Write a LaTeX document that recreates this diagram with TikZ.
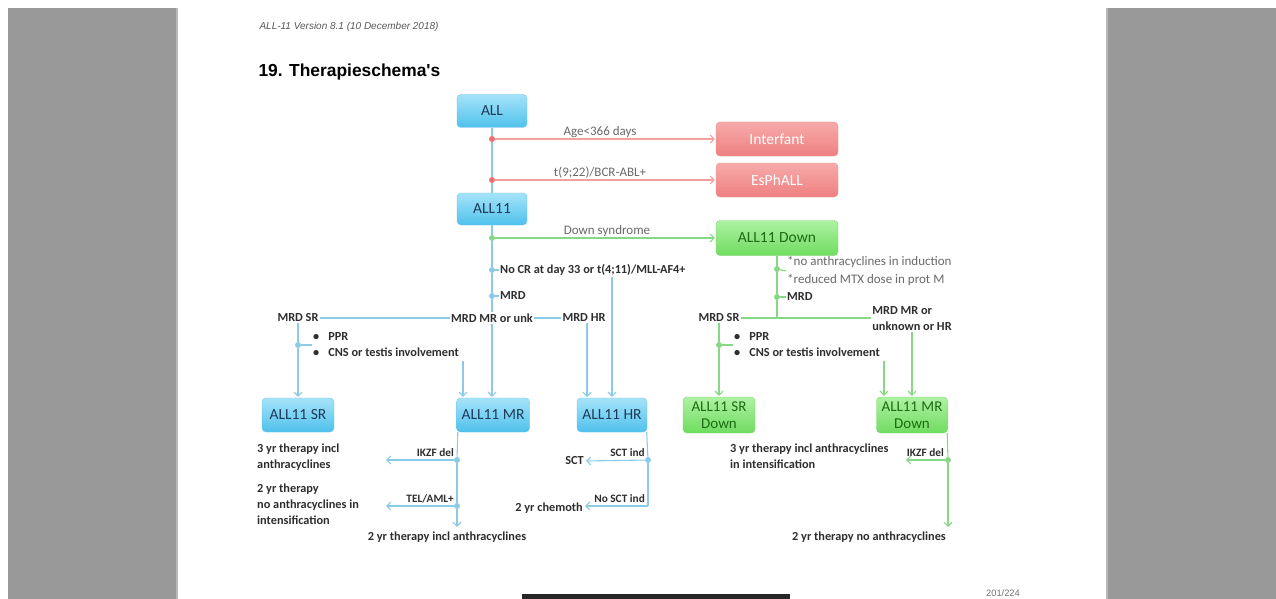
\documentclass[tikz,border=0pt]{standalone}
\usepackage{fontspec}
\setmainfont{Carlito}
\newfontfamily\arialf{Liberation Sans}
\usetikzlibrary{arrows.meta}
\definecolor{pagegray}{HTML}{999999}
\definecolor{bTop}{HTML}{A6E3F9}
\definecolor{bBot}{HTML}{4FC1EC}
\definecolor{bEdge}{HTML}{6CC6EA}
\definecolor{bText}{HTML}{1E3C5A}
\definecolor{bLine}{HTML}{8CCBE8}
\definecolor{rTop}{HTML}{F7AAAA}
\definecolor{rBot}{HTML}{EF8080}
\definecolor{rEdge}{HTML}{EE9090}
\definecolor{rLine}{HTML}{F3A0A0}
\definecolor{rDot}{HTML}{EE7070}
\definecolor{gTop}{HTML}{ADF2A2}
\definecolor{gBot}{HTML}{70DC60}
\definecolor{gEdge}{HTML}{7DD66E}
\definecolor{gText}{HTML}{1F6A14}
\definecolor{gLine}{HTML}{86D886}
\definecolor{txt}{HTML}{2E2E2E}
\definecolor{ltxt}{HTML}{6A6A6A}
\begin{document}
\begin{tikzpicture}[x=1pt,y=-1pt,
  box/.style={rounded corners=4pt, align=center, inner sep=2pt,
    font=\fontsize{15.5}{17}\selectfont},
  bbox/.style={box, top color=bTop, bottom color=bBot, draw=bEdge, text=bText},
  rbox/.style={box, top color=rTop, bottom color=rBot, draw=rEdge, text=white},
  gbox/.style={box, top color=gTop, bottom color=gBot, draw=gEdge, text=gText},
  lab/.style={font=\bfseries\fontsize{12.3}{16}\selectfont, text=txt, inner sep=1pt, align=left},
  slab/.style={font=\fontsize{13}{14}\selectfont, text=ltxt, inner sep=1pt},
  tlab/.style={font=\bfseries\fontsize{11.3}{13}\selectfont, text=txt, inner sep=1pt},
  nlab/.style={font=\fontsize{13}{18}\selectfont, text=ltxt, inner sep=1pt, align=left},
  bl/.style={draw=bLine, line width=1.1pt},
  rl/.style={draw=rLine, line width=1.1pt},
  gl/.style={draw=gLine, line width=1.1pt},
  arr/.style={-{Straight Barb[length=4pt,width=8pt]}, shorten >=1pt},
  bdot/.style={circle, fill=bLine, inner sep=0pt, minimum size=6pt},
  rdot/.style={circle, fill=rDot, inner sep=0pt, minimum size=6pt},
  gdot/.style={circle, fill=gLine, inner sep=0pt, minimum size=6pt}]
\useasboundingbox (0,0) rectangle (1276,599);
\fill[white] (0,0) rectangle (1276,599);
\fill[pagegray] (8,8) rectangle (176,599);
\fill[pagegray!70] (176,8) rectangle (178,599);
\fill[pagegray!70] (1106,8) rectangle (1108,599);
\fill[pagegray] (1108,8) rectangle (1276,599);
\fill[black!85] (522,594) rectangle (790,599);

% header
\node[anchor=west, font=\arialf\itshape\fontsize{10}{12}\selectfont, text=black!65] (hdr) at (256,27) {ALL-11 Version 8.1 (10 December 2018)};
\node[anchor=west, font=\arialf\bfseries\fontsize{17.4}{20}\selectfont] (ttl) at (255,72) {19. Therapieschema's};
\node[font=\arialf\fontsize{9.3}{10}\selectfont, text=black!55] (pg) at (1003,593) {201/224};

% boxes
\node[bbox, minimum width=70pt, minimum height=33pt] (ALL) at (492,111) {ALL};
\node[rbox, minimum width=122pt, minimum height=34pt] (INF) at (777,139) {Interfant};
\node[rbox, minimum width=122pt, minimum height=34pt] (ESP) at (777,180) {EsPhALL};
\node[bbox, minimum width=70pt, minimum height=32pt] (ALL11) at (492,209) {ALL11};
\node[gbox, minimum width=122pt, minimum height=35pt] (DOWN) at (777,238) {ALL11 Down};
\node[bbox, minimum width=72pt, minimum height=34pt] (SR) at (298,415) {ALL11 SR};
\node[bbox, minimum width=73pt, minimum height=34pt] (MR) at (493,415) {ALL11 MR};
\node[bbox, minimum width=70pt, minimum height=34pt] (HR) at (612,415) {ALL11 HR};
\node[gbox, minimum width=72pt, minimum height=36pt, font=\fontsize{15}{17}\selectfont] (SRD) at (719,415) {ALL11 SR\\Down};
\node[gbox, minimum width=71pt, minimum height=36pt, font=\fontsize{15}{17}\selectfont] (MRD) at (912,415) {ALL11 MR\\Down};

% red branches
\node[rdot] (r1) at (492,139) {};
\node[rdot] (r2) at (492,180) {};
\node[gdot] (g1) at (492,238) {};
\node[bdot] (c1) at (492,270) {};
\node[bdot] (c2) at (492,296) {};
\draw[bl] (ALL.south) -- (r1);
\draw[bl] (r1) -- (r2);
\draw[bl] (r2) -- (ALL11.north);
\draw[rl,arr] (r1) -- (INF.west);
\draw[rl,arr] (r2) -- (ESP.west);
\node[slab] (lage) at (600,132) {Age<366 days};
\node[slab] (lph) at (600,173) {t(9;22)/BCR-ABL+};

% Down syndrome
\draw[bl] (ALL11.south) -- (g1);
\draw[gl,arr] (g1) -- (DOWN.west);
\node[slab] (lds) at (607,231) {Down syndrome};

% blue chain
\node[lab, anchor=west] (nocr) at (499,270) {No CR at day 33 or t(4;11)/MLL-AF4+};
\node[lab, anchor=west] (mrdl) at (499,296) {MRD};
\node[lab, fill=white] (mrdsr) at (298,318) {MRD SR};
\node[lab, fill=white] (mrdmr) at (492,318) {MRD MR or unk};
\node[lab, fill=white] (mrdhr) at (584,318) {MRD HR};
\draw[bl] (g1) -- (c1);
\draw[bl] (c1) -- (c2);
\draw[bl] (c1) -- (nocr.west);
\draw[bl] (c2) -- (mrdl.west);
\draw[bl] (c2) -- (mrdmr.north);
\draw[bl,arr] (mrdmr.south) -- (mrdmr.south |- MR.north);
\draw[bl] (mrdsr) -- (mrdmr);
\draw[bl] (mrdmr) -- (mrdhr);
\coordinate (h1) at (587,398);
\draw[bl,arr] (nocr.south -| HR.north) -- (HR.north);
\draw[bl,arr] (mrdhr.south -| h1) -- (h1);
\node[bdot] (c3) at (298,345) {};
\node[lab, anchor=west] (bul) at (312,345) {\textbullet\hspace{9pt}PPR\\\textbullet\hspace{9pt}CNS or testis involvement};
\draw[bl] (mrdsr.south) -- (c3);
\draw[bl,arr] (c3) -- (SR.north);
\draw[bl] (c3) -- (bul.west);
\coordinate (b1) at (463,361);
\draw[bl,arr] (b1) -- (b1 |- MR.north);

% below MR
\node[bdot] (c4) at (457,460) {};
\node[bdot] (c5) at (457,506) {};
\coordinate (e1) at (385,460);
\coordinate (e2) at (385,506);
\coordinate (e3) at (457,528);
\draw[bl] ([xshift=1.5pt]MR.south west) -- (c4);
\draw[bl] (c4) -- (c5);
\draw[bl,arr] (c5) -- (e3);
\draw[bl,arr] (c4) -- (e1);
\draw[bl,arr] (c5) -- (e2);
\node[tlab, anchor=south east] (likzf) at (455,458) {IKZF del};
\node[tlab, anchor=south east] (ltel) at (455,504) {TEL/AML+};
\node[lab, anchor=north west] (t3) at (256,443) {3 yr therapy incl\\anthracyclines};
\node[lab, anchor=north west] (t2) at (256,483) {2 yr therapy\\no anthracyclines in\\intensification};
\node[lab] (t2i) at (447,537) {2 yr therapy incl anthracyclines};

% below HR
\node[bdot] (c6) at (648,460) {};
\coordinate (hc) at (648,506);
\node[lab, anchor=east] (sct) at (585,461) {SCT};
\node[lab, anchor=east] (chem) at (584,508) {2 yr chemoth};
\draw[bl] ([xshift=-0.5pt]HR.south east) -- (c6);
\draw[bl] (c6) -- (hc);
\draw[bl,arr] (c6) -- (sct.east);
\draw[bl,arr] (hc) -- (hc -| chem.east);
\node[tlab, anchor=south east] (lsct) at (646,458) {SCT ind};
\node[tlab, anchor=south east] (lnsct) at (646,504) {No SCT ind};

% green part
\node[gdot] (g2) at (777,269) {};
\node[gdot] (g3) at (777,297) {};
\node[nlab, anchor=west] (notes) at (786,271) {*no anthracyclines in induction\\*reduced MTX dose in prot M};
\node[lab, anchor=west] (mrdD) at (786,297) {MRD};
\node[lab, fill=white] (mrdsrD) at (719,318) {MRD SR};
\node[lab, fill=white, align=left] (mrdmrD) at (912,319) {MRD MR or\\unknown or HR};
\draw[gl] (DOWN.south) -- (g2);
\draw[gl] (g2) -- (g3);
\draw[gl] (g2) -- (notes.west);
\draw[gl] (g3) -- (mrdD.west);
\draw[gl] (g3) -- (g3 |- mrdsrD.east);
\draw[gl] (mrdsrD.east) -- (mrdsrD.east -| mrdmrD.west);
\node[gdot] (g4) at (719,345) {};
\node[lab, anchor=west] (bulD) at (733,345) {\textbullet\hspace{9pt}PPR\\\textbullet\hspace{9pt}CNS or testis involvement};
\draw[gl] (mrdsrD.south) -- (g4);
\draw[gl,arr] (g4) -- (SRD.north);
\draw[gl] (g4) -- (bulD.west);
\coordinate (b2) at (884,361);
\draw[gl,arr] (b2) -- (b2 |- MRD.north);
\draw[gl,arr] (mrdmrD.south) -- (mrdmrD.south |- MRD.north);
\node[gdot] (g5) at (948,460) {};
\coordinate (e4) at (948,528);
\coordinate (e5) at (905,460);
\draw[gl] ([xshift=-0.5pt]MRD.south east) -- (g5);
\draw[gl,arr] (g5) -- (e4);
\draw[gl,arr] (g5) -- (e5);
\node[tlab, anchor=south east] (likzfD) at (945,458) {IKZF del};
\node[lab, anchor=north west] (tD3) at (729,443) {3 yr therapy incl anthracyclines\\in intensification};
\node[lab] (t2no) at (869,537) {2 yr therapy no anthracyclines};
\end{tikzpicture}
\end{document}
